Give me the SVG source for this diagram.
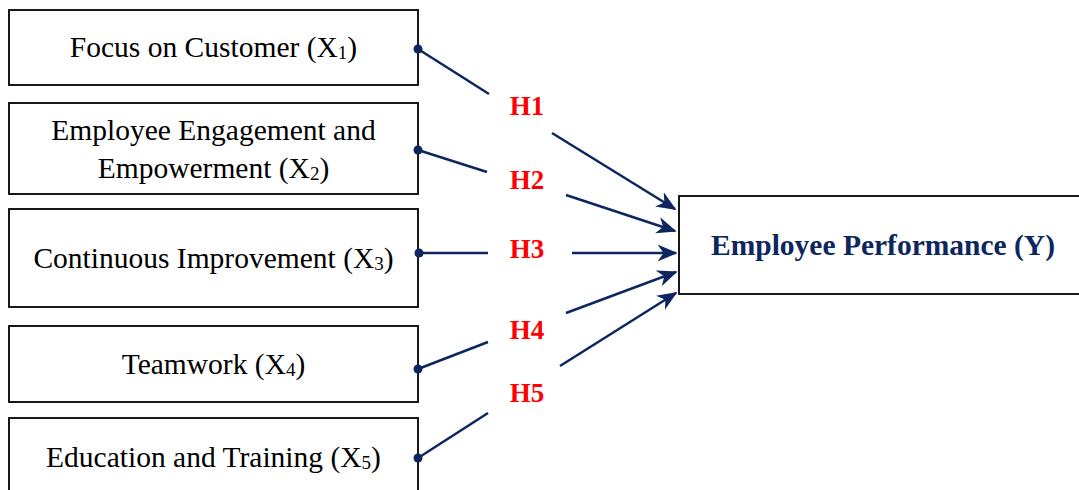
<svg xmlns="http://www.w3.org/2000/svg" width="1079" height="490" viewBox="0 0 1079 490">
<style>
.box{fill:#fff;stroke:#000;stroke-width:1.8}
.t{font-family:"Liberation Serif","Times New Roman",serif;font-size:29.5px;fill:#000;text-anchor:middle}
.sub{font-size:19px}
.y{font-family:"Liberation Serif","Times New Roman",serif;font-size:29.5px;font-weight:bold;fill:#0d2660;text-anchor:middle}
.h{font-family:"Liberation Serif","Times New Roman",serif;font-size:27px;font-weight:bold;fill:#ff0000;text-anchor:middle}
.c{stroke:#0d2660;stroke-width:2.5;fill:none}
.a{marker-end:url(#arr)}
.dot{fill:#0d2660}
</style>
<defs>
<marker id="arr" viewBox="0 0 12 10" refX="11" refY="5" markerWidth="8" markerHeight="7" orient="auto" markerUnits="strokeWidth">
<path d="M0,0 L12,5 L0,10 L3.5,5 z" fill="#0d2660"/>
</marker>
</defs>
<g id="x1"><rect class="box" x="9" y="10" width="409" height="75"/><text class="t" x="213.5" y="57">Focus on Customer (X<tspan class="sub" dy="2">1</tspan><tspan dy="-2">)</tspan></text></g>
<g id="x2"><rect class="box" x="9" y="103" width="409" height="91"/><text class="t" x="213.5" y="140">Employee Engagement and</text><text class="t" x="213.5" y="178">Empowerment (X<tspan class="sub" dy="2">2</tspan><tspan dy="-2">)</tspan></text></g>
<g id="x3"><rect class="box" x="9" y="209" width="409" height="98"/><text class="t" x="213.5" y="268">Continuous Improvement (X<tspan class="sub" dy="2">3</tspan><tspan dy="-2">)</tspan></text></g>
<g id="x4"><rect class="box" x="9" y="326" width="409" height="76"/><text class="t" x="213.5" y="374">Teamwork (X<tspan class="sub" dy="2">4</tspan><tspan dy="-2">)</tspan></text></g>
<g id="x5"><rect class="box" x="9" y="418" width="409" height="90"/><text class="t" x="213.5" y="467">Education and Training (X<tspan class="sub" dy="2">5</tspan><tspan dy="-2">)</tspan></text></g>
<g id="y"><rect class="box" x="679" y="196" width="410" height="98"/><text class="y" x="883" y="255">Employee Performance (Y)</text></g>
<g id="connectors">
<line class="c" x1="418" y1="49" x2="489" y2="94"/>
<line class="c a" x1="552" y1="133" x2="675" y2="209"/>
<line class="c" x1="418" y1="150" x2="487" y2="172"/>
<line class="c a" x1="566" y1="195" x2="675" y2="231"/>
<line class="c" x1="418" y1="253" x2="488" y2="253"/>
<line class="c a" x1="572" y1="253" x2="676" y2="253"/>
<line class="c" x1="418" y1="369" x2="488" y2="342"/>
<line class="c a" x1="566" y1="313" x2="676" y2="272"/>
<line class="c" x1="418" y1="458" x2="488" y2="413"/>
<line class="c a" x1="560" y1="366" x2="676" y2="293"/>
<circle class="dot" cx="418" cy="49" r="4.5"/>
<circle class="dot" cx="418" cy="150" r="4.5"/>
<circle class="dot" cx="419" cy="253" r="4.5"/>
<circle class="dot" cx="418" cy="369" r="4.5"/>
<circle class="dot" cx="418" cy="458" r="4.5"/>
<text class="h" x="527" y="115">H1</text>
<text class="h" x="527" y="189">H2</text>
<text class="h" x="527" y="258">H3</text>
<text class="h" x="527" y="339">H4</text>
<text class="h" x="527" y="402">H5</text>
</g>
</svg>
